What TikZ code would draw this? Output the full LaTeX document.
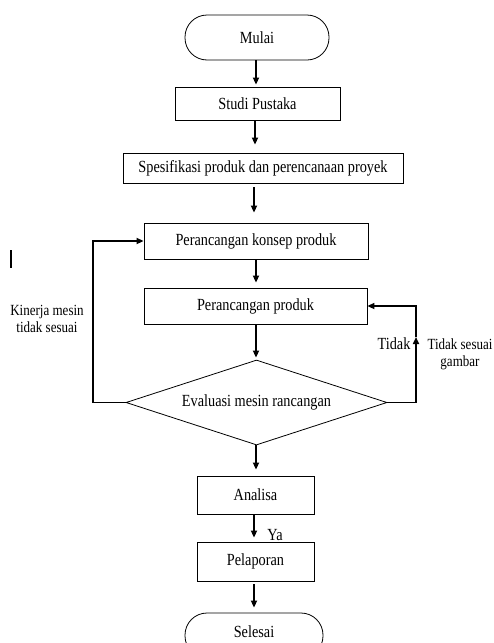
\documentclass[tikz,border=0pt]{standalone}
\usepackage{fontspec}
\setmainfont{Liberation Serif}[FakeStretch=0.84]
\usetikzlibrary{shapes.geometric,arrows.meta}
\begin{document}
\begin{tikzpicture}[x=1pt,y=-1pt,font=\fontsize{17}{19}\selectfont,
    kotak/.style={draw, line width=0.8pt, inner sep=2pt},
    terminal/.style={draw, line width=0.8pt, rounded corners=22pt, minimum width=144pt, minimum height=45pt},
    panah/.style={-{Triangle[length=7pt,width=6pt]}, line width=1.6pt},
    kecil/.style={font=\fontsize{15.5}{17}\selectfont, align=center}]
        \useasboundingbox (0,0) rectangle (494,643);
        \clip (0,0) rectangle (494,643);
        \node[terminal] (mulai) at (257,37.5) {Mulai};
        \node[kotak, minimum width=165pt, minimum height=33pt] (studi) at (257.5,103.5) {Studi Pustaka};
        \node[kotak, minimum width=280pt, minimum height=30pt] (spek) at (263,168) {Spesifikasi produk dan perencanaan proyek};
        \node[kotak, minimum width=224pt, minimum height=36pt] (konsep) at (256,241) {Perancangan konsep produk};
        \node[kotak, minimum width=223pt, minimum height=36pt] (produk) at (255.5,306) {Perancangan produk};
        \node[draw, line width=0.8pt, diamond, aspect=3.07, minimum width=261pt, minimum height=85pt, inner sep=0pt] (eval) at (256.5,402.5) {Evaluasi mesin rancangan};
        \node[kotak, minimum width=117pt, minimum height=38pt] (analisa) at (255.5,495) {Analisa};
        \node[kotak, minimum width=117pt, minimum height=39pt] (lapor) at (255.5,561.5) {Pelaporan};
        \node[terminal, minimum width=138pt, text height=12pt, text depth=9pt] (selesai) at (254,635.5) {Selesai};
        \coordinate (kiri) at (93,402.5);
        \coordinate (kanan) at (416,402.5);
        \coordinate (naik) at (416,337);
        \draw[panah, shorten >=2pt] (mulai.south -| 256,0) -- (studi.north -| 256,0);
        \draw[panah, shorten >=8pt, shorten <=1pt] (studi.south -| 255,0) -- (spek.north -| 255,0);
        \draw[panah, shorten >=10pt, shorten <=4pt] (spek.south -| 254,0) -- (konsep.north -| 254,0);
        \draw[panah, shorten >=5pt] (konsep.south -| 256,0) -- (produk.north -| 256,0);
        \draw[panah, shorten >=2pt] (produk.south -| 256,0) -- (eval.north -| 256,0);
        \draw[panah, shorten >=6pt] (eval.south -| 256,0) -- (analisa.north -| 256,0);
        \draw[panah, shorten >=4pt] (analisa.south -| 254,0) -- (lapor.north -| 254,0);
        \draw[panah, shorten >=5pt, shorten <=3pt] (lapor.south -| 254,0) -- (selesai.north -| 254,0);
        \draw[panah] (eval.west) -- (kiri) |- (konsep.west);
        \draw[panah] (eval.east) -- (kanan) -- (naik);
        \draw[panah] (naik) |- (produk.east);
        \node[kecil] (kinerja) at (47,319) {Kinerja mesin\\tidak sesuai};
        \node (tidak) at (394,344) {Tidak};
        \node[kecil] (gambar) at (460,354) {Tidak sesuai\\gambar};
        \node (ya) at (275,535) {Ya};
        \draw[line width=1.2pt] (11,250) -- (11,268);
\end{tikzpicture}
\end{document}
